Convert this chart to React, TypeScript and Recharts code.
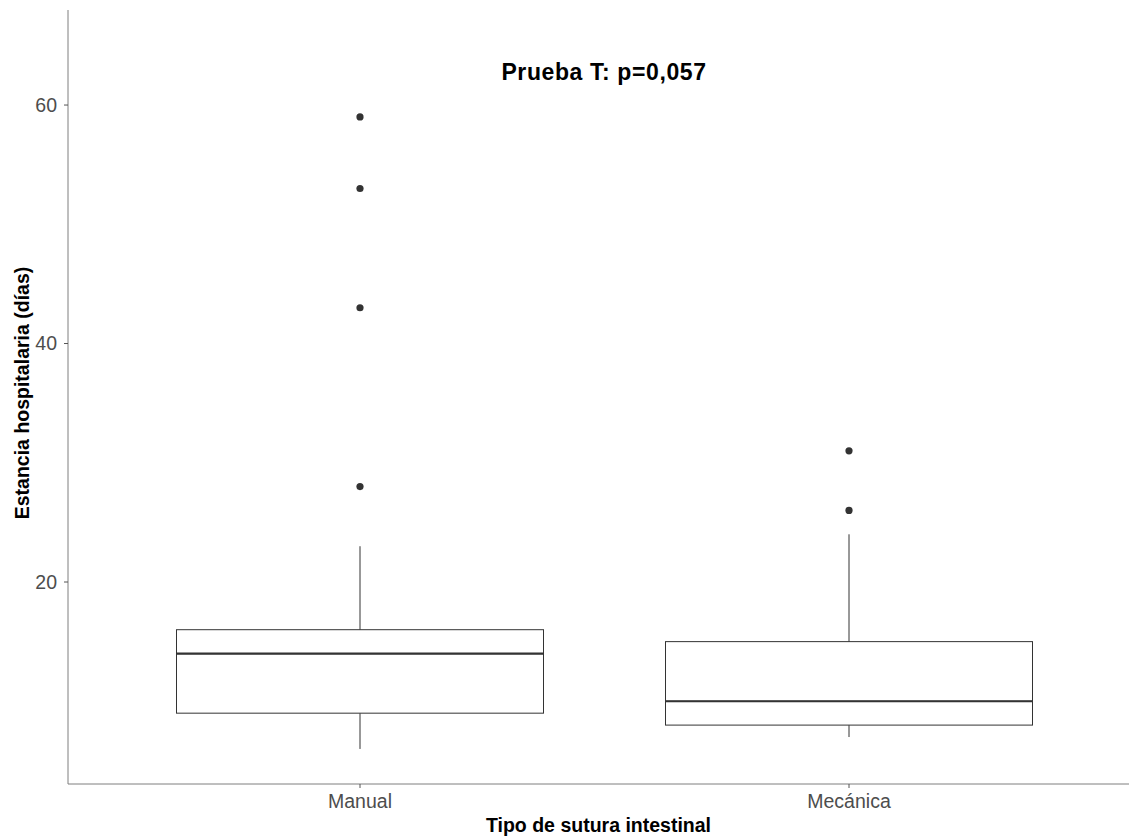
import React from "react";
import { ComposedChart, Bar, Scatter, XAxis, YAxis, Label } from "recharts";

// categorías y estadísticos de la caja (días)
const categories = ["Manual", "Mecánica"];
const whiskerLow = [6, 7];
const q1 = [9, 8];
const median = [14, 10];
const q3 = [16, 15];
const whiskerHigh = [23, 24];

// valores atípicos
const outlierCats = ["Manual", "Manual", "Manual", "Manual", "Mecánica", "Mecánica"];
const outlierValues = [59, 53, 43, 28, 31, 26];

const yTicks = [20, 40, 60];

const FONT = "'Liberation Sans', Arial, Helvetica, sans-serif";
const INK = "#333333";
const BORDER = "#7f7f7f";

const boxData = categories.map((cat, i) => ({
  cat,
  base: whiskerLow[i],
  lowW: q1[i] - whiskerLow[i],
  lowBox: median[i] - q1[i],
  highBox: q3[i] - median[i],
  highW: whiskerHigh[i] - q3[i],
}));

const outlierData = outlierCats.map((cat, i) => ({ cat, v: outlierValues[i] }));

const Whisker = (p: any) => {
  const cx = p.x + p.width / 2;
  return <line x1={cx} x2={cx} y1={p.y} y2={p.y + p.height} stroke={INK} strokeWidth={1} />;
};

const LowerBox = (p: any) => (
  <rect x={p.x} y={p.y} width={p.width} height={p.height} fill="#ffffff" stroke={INK} strokeWidth={1} />
);

// mitad superior: la mediana se dibuja como borde inferior grueso
const UpperBox = (p: any) => (
  <g>
    <rect x={p.x} y={p.y} width={p.width} height={p.height} fill="#ffffff" stroke={INK} strokeWidth={1} />
    <line x1={p.x} x2={p.x + p.width} y1={p.y + p.height} y2={p.y + p.height} stroke={INK} strokeWidth={2.2} />
  </g>
);

const Dot = (p: any) => <circle cx={p.cx} cy={p.cy} r={3.6} fill={INK} />;

export default function App() {
  return (
    <div style={{ position: "absolute", left: 0, top: 0, width: 1129, height: 836, fontFamily: FONT, background: "#fff" }}>
      <ComposedChart
        width={1129}
        height={836}
        data={boxData}
        margin={{ top: 10, right: 0, bottom: 0, left: 0 }}
      >
        <XAxis
          dataKey="cat"
          type="category"
          allowDuplicatedCategory={false}
          height={52}
          padding={{ left: 47.5, right: 35.5 }}
          axisLine={{ stroke: BORDER, strokeWidth: 1 }}
          tickLine={{ stroke: "#555" }}
          tickSize={4}
          tickMargin={6}
          tick={{ fill: "#4d4d4d", fontSize: 19.5, fontFamily: FONT }}
        >
          <Label
            content={(props: any) => {
              const vb = props.viewBox;
              return (
                <text
                  x={vb.x + vb.width / 2}
                  y={832}
                  textAnchor="middle"
                  fontFamily={FONT}
                  fontSize={19.5}
                  fontWeight="bold"
                  fill="#000"
                >
                  Tipo de sutura intestinal
                </text>
              );
            }}
          />
        </XAxis>
        <XAxis
          xAxisId="top"
          orientation="top"
          dataKey="cat"
          height={0}
          padding={{ left: 47.5, right: 35.5 }}
          axisLine={{ stroke: BORDER, strokeWidth: 1 }}
          tick={false}
          tickLine={false}
        />
        <YAxis
          type="number"
          domain={[3.06, 67.97]}
          allowDataOverflow
          ticks={yTicks}
          width={68}
          axisLine={{ stroke: BORDER, strokeWidth: 1 }}
          tickLine={{ stroke: "#555" }}
          tickSize={4}
          tickMargin={7}
          tick={{ fill: "#4d4d4d", fontSize: 19.5, fontFamily: FONT }}
        >
          <Label
            content={(props: any) => {
              const vb = props.viewBox;
              const cy = vb.y + vb.height / 2 - 4;
              return (
                <text
                  x={22}
                  y={cy}
                  transform={`rotate(-90, 22, ${cy})`}
                  textAnchor="middle"
                  dominantBaseline="central"
                  fontFamily={FONT}
                  fontSize={19.5}
                  fontWeight="bold"
                  fill="#000"
                >
                  Estancia hospitalaria (días)
                </text>
              );
            }}
          />
        </YAxis>
        <Bar dataKey="base" stackId="box" barSize={367} fill="none" isAnimationActive={false} />
        <Bar dataKey="lowW" stackId="box" barSize={367} shape={Whisker} isAnimationActive={false} />
        <Bar dataKey="lowBox" stackId="box" barSize={367} shape={LowerBox} isAnimationActive={false} />
        <Bar dataKey="highBox" stackId="box" barSize={367} shape={UpperBox} isAnimationActive={false} />
        <Bar dataKey="highW" stackId="box" barSize={367} shape={Whisker} isAnimationActive={false} />
        <Scatter data={outlierData} dataKey="v" shape={Dot} isAnimationActive={false} />
      </ComposedChart>
      <svg
        width={1129}
        height={836}
        style={{ position: "absolute", left: 0, top: 0, pointerEvents: "none" }}
      >
        <text
          x={604}
          y={80}
          textAnchor="middle"
          fontFamily={FONT}
          fontSize={23}
          fontWeight="bold"
          letterSpacing={0.6}
          fill="#000"
        >
          Prueba T: p=0,057
        </text>
      </svg>
    </div>
  );
}
